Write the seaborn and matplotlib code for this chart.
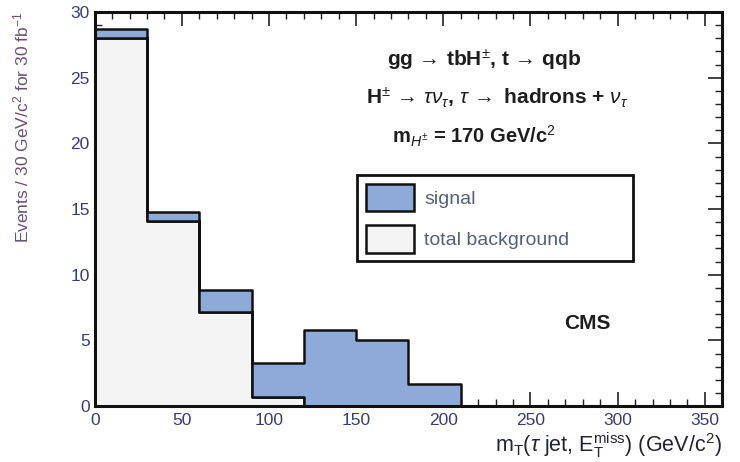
import numpy as np
import pandas as pd
import matplotlib
matplotlib.use("Agg")
import matplotlib.pyplot as plt
from matplotlib.patches import Patch
from matplotlib.ticker import MultipleLocator
import seaborn as sns

# ---- data ----
bin_edges = [0, 30, 60, 90, 120, 150, 180, 210]
background = [28.0, 14.1, 7.2, 0.7, 0.0, 0.0, 0.0]
signal = [0.7, 0.7, 1.6, 2.6, 5.8, 5.0, 1.65]
components = ["signal", "total background"]

centers = [(a + b) / 2 for a, b in zip(bin_edges[:-1], bin_edges[1:])]
df = pd.DataFrame({
    "mT": centers * 2,
    "events": signal + background,
    "component": ["signal"] * len(signal) + ["total background"] * len(background),
})

sig_color = "#8eaad9"
bkg_color = "#f4f4f4"

sns.set_style("ticks")
plt.rcParams["font.family"] = ["Liberation Sans", "DejaVu Sans"]
plt.rcParams["mathtext.fontset"] = "custom"
plt.rcParams["mathtext.rm"] = "Liberation Sans"
plt.rcParams["mathtext.it"] = "Liberation Sans:italic"
plt.rcParams["mathtext.bf"] = "Liberation Sans:bold"

fig = plt.figure(figsize=(7.40, 4.62), dpi=100)
ax = fig.add_axes([0.128, 0.121, 0.848, 0.853])

sns.histplot(data=df, x="mT", weights="events", hue="component",
             hue_order=components, bins=bin_edges, multiple="stack",
             element="step", palette={"signal": sig_color, "total background": bkg_color},
             alpha=1, edgecolor="#111111", linewidth=1.8, legend=False, ax=ax)

ax.set_xlim(0, 360)
ax.set_ylim(0, 30)
ax.xaxis.set_major_locator(MultipleLocator(50))
ax.xaxis.set_minor_locator(MultipleLocator(10))
ax.yaxis.set_major_locator(MultipleLocator(5))
ax.yaxis.set_minor_locator(MultipleLocator(1))
ax.tick_params(which="both", direction="in", top=True, right=True, colors="#222222",
               labelcolor="#3b3b70", labelsize=12.5)
ax.tick_params(which="major", length=10, width=1.2)
ax.tick_params(which="minor", length=5, width=1.0)
ax.tick_params(axis="x", which="major", pad=5)
for s in ax.spines.values():
    s.set_linewidth(2.2)
    s.set_color("#111111")

ax.set_xlabel(r"m$_{\mathrm{T}}$($\tau$ jet, E$_{\mathrm{T}}^{\mathrm{miss}}$) (GeV/c$^{2}$)",
              fontsize=15.5, color="#222233", loc="right", labelpad=2)
ax.set_ylabel(r"Events / 30 GeV/c$^{2}$ for 30 fb$^{-1}$", fontsize=12.5,
              color="#6a5272", loc="top", labelpad=28)


def px2x(px):
    return (px - 95) / 627 * 360


def py2y(py):
    return (406 - py) / 394 * 30


txt_kw = dict(fontweight="bold", ha="center", va="center", color="#1e1e1e")
ax.text(px2x(484), py2y(60), r"gg$\,\rightarrow\,$tbH$^{\pm}$, t$\,\rightarrow\,$qqb", fontsize=15, **txt_kw)
ax.text(px2x(497), py2y(98),
        r"H$^{\pm}\,\rightarrow\,\tau\nu_{\tau}$, $\tau\,\rightarrow$ hadrons + $\nu_{\tau}$",
        fontsize=15, **txt_kw)
ax.text(px2x(474), py2y(136), r"m$_{H^{\pm}}$ = 170 GeV/c$^{2}$", fontsize=14.5, **txt_kw)
ax.text(px2x(587), py2y(323), "CMS", fontsize=15, **txt_kw)

handles = [Patch(facecolor=sig_color, edgecolor="#111111", linewidth=1.8, label="signal"),
           Patch(facecolor=bkg_color, edgecolor="#111111", linewidth=1.8, label="total background")]
leg = ax.legend(handles=handles, loc="upper left",
                bbox_to_anchor=(0.418, 0.363, 0.44, 0.223), mode="expand",
                fontsize=14, frameon=True, fancybox=False, edgecolor="#111111",
                handlelength=2.5, handleheight=1.8, labelspacing=0.7, borderpad=0.45,
                handletextpad=0.5, labelcolor="#55607a", borderaxespad=0)
leg.get_frame().set_linewidth(2.0)
leg.get_frame().set_facecolor("white")
leg.get_frame().set_alpha(1)

fig.savefig("out.png", dpi=100)
